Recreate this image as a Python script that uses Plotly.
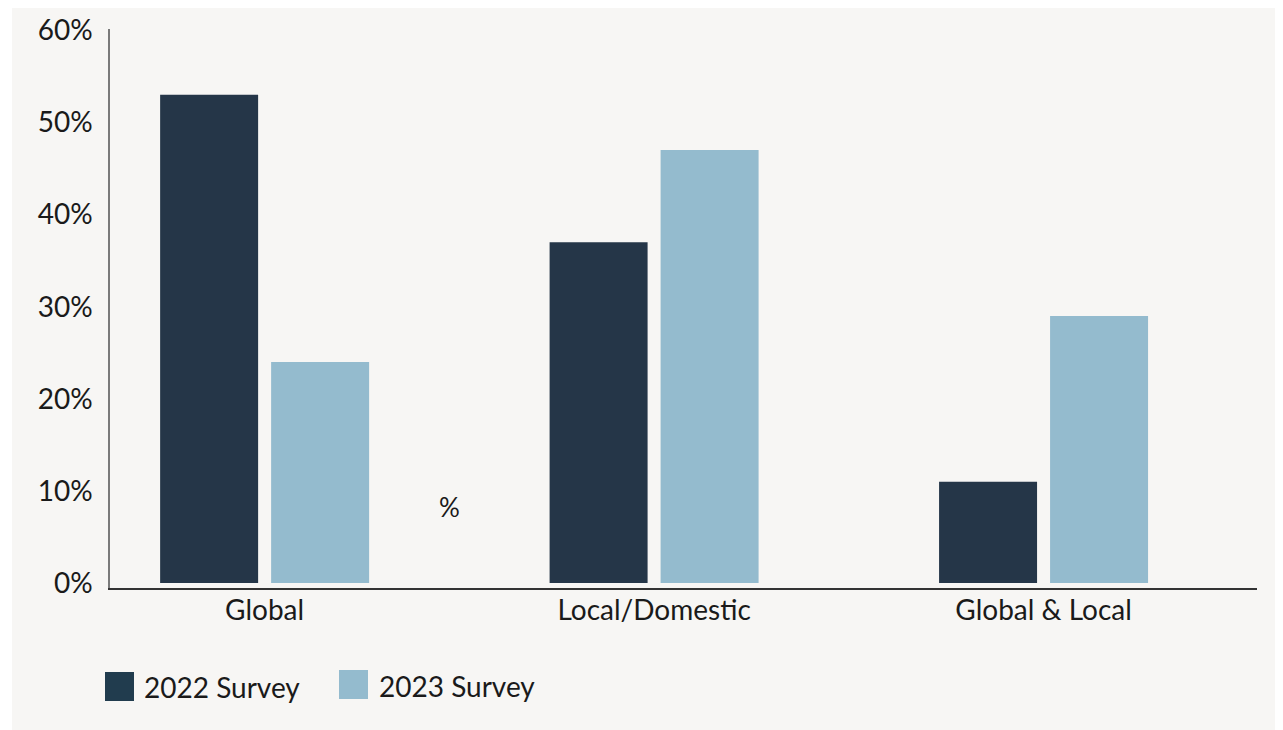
import plotly.graph_objects as go

categories = ["Global", "Local/Domestic", "Global & Local"]
series_names = ["2022 Survey", "2023 Survey"]
values_2022 = [53, 37, 11]
values_2023 = [24, 47, 29]
tick_vals = [0, 10, 20, 30, 40, 50, 60]
tick_text = ["0%", "10%", "20%", "30%", "40%", "50%", "60%"]

c2022 = "#253648"
c2023 = "#94bbce"
bg = "#f7f6f4"
font_family = "Lato, 'Open Sans', sans-serif"
txt = "#1a1a1a"
FS = 28

# page offset (browser body margin)
OFF = 8
W, H = 1283 - OFF, 730 - OFF
L = 110 - OFF
T = 29 - OFF
B = H - (588 - OFF)
R = W - (1257 - OFF)
pw = W - L - R
ph = H - T - B

def px_x(x):
    return (x - OFF - L) / pw

def px_y(y):
    return (H - B - (y - OFF)) / ph

fig = go.Figure()
fig.add_trace(go.Bar(x=categories, y=values_2022, name=series_names[0],
                     marker=dict(color=c2022, line=dict(width=0)),
                     offset=-0.2683, width=0.2516, showlegend=False))
fig.add_trace(go.Bar(x=categories, y=values_2023, name=series_names[1],
                     marker=dict(color=c2023, line=dict(width=0)),
                     offset=0.0167, width=0.2516, showlegend=False))

shapes = [
    dict(type="rect", xref="paper", yref="paper", layer="below",
         x0=px_x(12), x1=px_x(1276), y0=px_y(740), y1=px_y(4),
         fillcolor=bg, line=dict(width=0)),
    dict(type="rect", xref="paper", yref="paper",
         x0=px_x(105), x1=px_x(134), y0=px_y(701), y1=px_y(672),
         fillcolor="#213c4e", line=dict(width=0)),
    dict(type="rect", xref="paper", yref="paper",
         x0=px_x(339), x1=px_x(368), y0=px_y(699), y1=px_y(670),
         fillcolor=c2023, line=dict(width=0)),
]

annotations = [
    dict(text=series_names[0], xref="paper", yref="paper", x=px_x(142), y=px_y(687),
         xanchor="left", yanchor="middle", showarrow=False,
         font=dict(size=FS, color=txt, family=font_family)),
    dict(text=series_names[1], xref="paper", yref="paper", x=px_x(377), y=px_y(686),
         xanchor="left", yanchor="middle", showarrow=False,
         font=dict(size=FS, color=txt, family=font_family)),
    dict(text="%", xref="x", yref="y", x=0.474, y=8.3, showarrow=False,
         font=dict(size=FS - 2, color=txt, family=font_family)),
]

fig.update_layout(
    width=W, height=H,
    margin=dict(l=L, r=R, t=T, b=B, autoexpand=False),
    paper_bgcolor="white",
    plot_bgcolor="rgba(0,0,0,0)",
    barmode="overlay",
    shapes=shapes,
    annotations=annotations,
    font=dict(family=font_family, size=FS, color=txt),
    xaxis=dict(range=[-0.397, 2.548], showgrid=False, zeroline=False,
               showline=True, linecolor="#333333", linewidth=2, automargin=False,
               ticks="", tickfont=dict(size=FS, color=txt), ticklabelstandoff=-4),
    yaxis=dict(range=[-0.54, 60.15], showgrid=False, zeroline=False,
               showline=True, linecolor="#7a7a7a", linewidth=1.5, automargin=False,
               tickvals=tick_vals, ticktext=tick_text, ticks="",
               tickfont=dict(size=FS, color=txt), ticklabelstandoff=10),
)

fig.write_html("out.html")
